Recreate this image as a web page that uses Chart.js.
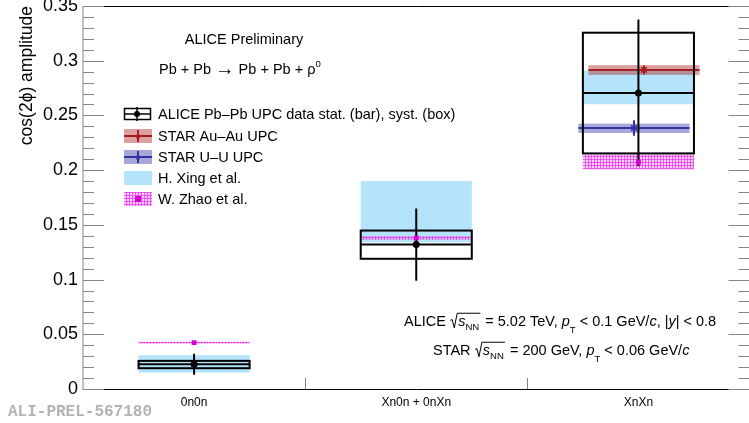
<!DOCTYPE html>
<html>
<head>
<meta charset="utf-8">
<script src="https://cdn.jsdelivr.net/npm/chart.js@4.4.0/dist/chart.umd.min.js"></script>
<style>
    html, body { margin: 0; padding: 0; background: #fff; overflow: hidden; }
    canvas { display: block; }
</style>
</head>
<body>
<canvas id="ampChart" width="755" height="423"></canvas>
<script>
// categories and tick labels
const categories = ['0n0n', 'Xn0n + 0nXn', 'XnXn'];
const yTicks = [0, 0.05, 0.1, 0.15, 0.2, 0.25, 0.3, 0.35];

// ALICE Pb-Pb UPC: value, stat. error, syst. box
const aliceValues = [0.0226, 0.132, 0.2706];
const aliceStat = [0.0095, 0.033, 0.067];
const aliceSystLow = [0.019, 0.119, 0.2153];
const aliceSystHigh = [0.0257, 0.1448, 0.3256];

// STAR (only XnXn)
const starAuValues = [null, null, 0.2916];
const starAuStat = [null, null, 0.004];
const starAuSystLow = [null, null, 0.287];
const starAuSystHigh = [null, null, 0.296];

const starUUValues = [null, null, 0.2385];
const starUUStat = [null, null, 0.007];
const starUUSystLow = [null, null, 0.234];
const starUUSystHigh = [null, null, 0.2425];

// models
const xingLow = [0.015, 0.134, 0.2602];
const xingHigh = [0.0308, 0.190, 0.2908];

const zhaoValues = [0.0424, 0.138, 0.2073];
const zhaoLow = [0.0415, 0.1362, 0.2007];
const zhaoHigh = [0.0432, 0.1398, 0.2144];

// styles
const halfWidth = 0.25;
const auShift = 0.025;
const uuShift = -0.02;
const FONT = '"Liberation Sans", Arial, Helvetica, sans-serif';
const TXT = 14.5;
const xingColor = 'rgb(179, 228, 252)';
const auLine = 'rgb(165, 30, 35)';
const auBand = 'rgba(180, 45, 45, 0.45)';
const uuLine = 'rgb(50, 50, 160)';
const uuBand = 'rgba(60, 60, 170, 0.45)';
const zhaoColor = 'rgb(215, 0, 215)';
const axisGray = '#858585';

function centerX(i, shift) {
    return i + 0.5 + (shift || 0);
}

// hatch pattern for the W. Zhao band
function makeHatch(ctx) {
    const c = document.createElement('canvas');
    c.width = 3; c.height = 3;
    const p = c.getContext('2d');
    p.fillStyle = 'rgba(240, 110, 240, 0.3)';
    p.fillRect(0, 0, 3, 3);
    p.fillStyle = 'rgba(235, 60, 235, 0.8)';
    p.fillRect(0, 0, 3, 1);
    p.fillRect(0, 0, 1, 3);
    return ctx.createPattern(c, 'repeat');
}

function line(ctx, x1, y1, x2, y2) {
    ctx.beginPath();
    ctx.moveTo(x1, y1);
    ctx.lineTo(x2, y2);
    ctx.stroke();
}

// rich text: parts with italic / sub / sup / sqrt
function runRich(ctx, parts, x, y, size, draw) {
    let cx = x;
    for (const p of parts) {
        if (p.sqrt) {
            const inner = runRich(ctx, p.sqrt, 0, 0, size, false);
            const rw = size * 0.5;
            if (draw) {
                ctx.save();
                ctx.strokeStyle = '#000';
                ctx.lineWidth = 1;
                ctx.beginPath();
                ctx.moveTo(cx + 0.5, y - size * 0.38);
                ctx.lineTo(cx + size * 0.15, y - size * 0.45);
                ctx.lineTo(cx + size * 0.3, y + size * 0.12);
                ctx.lineTo(cx + rw, y - size * 0.88);
                ctx.lineTo(cx + rw + inner + 2, y - size * 0.88);
                ctx.stroke();
                ctx.restore();
                runRich(ctx, p.sqrt, cx + rw + 1, y, size, true);
            }
            cx += rw + inner + 3;
            continue;
        }
        const small = p.sub || p.sup;
        const fs = (small ? size * 0.66 : size) * (p.scale || 1);
        ctx.font = (p.it ? 'italic ' : '') + fs + 'px ' + FONT;
        const w = ctx.measureText(p.t).width;
        if (draw) {
            let dy = p.dy || 0;
            if (p.sub) dy = size * (p.low ? 0.45 : 0.3);
            if (p.sup) dy = -size * 0.45;
            ctx.fillText(p.t, cx, y + dy);
        }
        cx += w;
    }
    return cx - x;
}

function drawRich(ctx, parts, x, y, size) {
    ctx.save();
    ctx.fillStyle = '#000';
    ctx.textAlign = 'left';
    ctx.textBaseline = 'alphabetic';
    runRich(ctx, parts, x, y, size, true);
    ctx.restore();
}

function starMarker(ctx, x, y, r, color) {
    ctx.save();
    ctx.fillStyle = color;
    ctx.beginPath();
    for (let k = 0; k < 10; k++) {
        const a = -Math.PI / 2 + k * Math.PI / 5;
        const rr = k % 2 === 0 ? r : r * 0.45;
        ctx.lineTo(x + rr * Math.cos(a), y + rr * Math.sin(a));
    }
    ctx.closePath();
    ctx.fill();
    ctx.restore();
}

const bandsPlugin = {
    id: 'bands',
    beforeDatasetsDraw(chart) {
        const {ctx, chartArea, scales: {x, y}} = chart;
        const hatch = makeHatch(ctx);
        ctx.save();
        ctx.beginPath();
        ctx.rect(chartArea.left, chartArea.top, chartArea.width, chartArea.height);
        ctx.clip();

        const rect = (i, shift, lo, hi, fill) => {
            const xl = x.getPixelForValue(centerX(i, shift) - halfWidth);
            const xr = x.getPixelForValue(centerX(i, shift) + halfWidth);
            const yt = y.getPixelForValue(hi);
            const yb = y.getPixelForValue(lo);
            ctx.fillStyle = fill;
            ctx.fillRect(xl, yt, xr - xl, yb - yt);
            return [xl, xr, yt, yb];
        };

        // H. Xing et al.
        categories.forEach((c, i) => rect(i, 0, xingLow[i], xingHigh[i], xingColor));
        // W. Zhao et al.
        categories.forEach((c, i) => rect(i, 0, zhaoLow[i], zhaoHigh[i], hatch));

        // STAR bands and lines
        const star = (vals, stat, lo, hi, shift, lineCol, bandCol) => {
            categories.forEach((c, i) => {
                if (vals[i] == null) return;
                const [xl, xr] = rect(i, shift, lo[i], hi[i], bandCol);
                const yv = y.getPixelForValue(vals[i]);
                ctx.strokeStyle = lineCol;
                ctx.lineWidth = 2;
                line(ctx, xl, yv, xr, yv);
                const xm = x.getPixelForValue(centerX(i, shift));
                line(ctx, xm, y.getPixelForValue(vals[i] + stat[i]), xm, y.getPixelForValue(vals[i] - stat[i]));
            });
        };
        star(starUUValues, starUUStat, starUUSystLow, starUUSystHigh, uuShift, uuLine, uuBand);
        star(starAuValues, starAuStat, starAuSystLow, starAuSystHigh, auShift, auLine, auBand);

        // ALICE syst boxes and stat bars
        ctx.strokeStyle = '#000';
        ctx.lineWidth = 2;
        categories.forEach((c, i) => {
            const xl = x.getPixelForValue(centerX(i) - halfWidth);
            const xr = x.getPixelForValue(centerX(i) + halfWidth);
            const yt = y.getPixelForValue(aliceSystHigh[i]);
            const yb = y.getPixelForValue(aliceSystLow[i]);
            ctx.strokeRect(xl, yt, xr - xl, yb - yt);
            const yv = y.getPixelForValue(aliceValues[i]);
            line(ctx, xl, yv, xr, yv);
            const xm = x.getPixelForValue(centerX(i));
            line(ctx, xm, y.getPixelForValue(aliceValues[i] + aliceStat[i]), xm, y.getPixelForValue(aliceValues[i] - aliceStat[i]));
        });
        ctx.restore();
    },
    afterDraw(chart) {
        const {ctx, chartArea, scales: {x, y}} = chart;
        const hatch = makeHatch(ctx);
        ctx.save();

        // frame and axes
        ctx.strokeStyle = '#000';
        ctx.lineWidth = 1;
        line(ctx, chartArea.left, chartArea.top + 0.5, chartArea.right, chartArea.top + 0.5);
        line(ctx, chartArea.left, chartArea.bottom + 0.5, chartArea.right, chartArea.bottom + 0.5);
        ctx.strokeStyle = axisGray;
        line(ctx, chartArea.left, chartArea.top, chartArea.left, chartArea.bottom + 1);
        line(ctx, chartArea.right, chartArea.top, chartArea.right, chartArea.bottom + 1);

        // inward y ticks, left and right
        for (let k = 0; k <= 35; k++) {
            const yp = Math.round(y.getPixelForValue(k / 100)) + 0.5;
            const len = k % 5 === 0 ? 21 : 11;
            line(ctx, chartArea.left, yp, chartArea.left + len, yp);
            line(ctx, chartArea.right - len, yp, chartArea.right, yp);
        }
        // x ticks at category boundaries
        for (let k = 1; k < categories.length; k++) {
            const xp = Math.round(x.getPixelForValue(k)) + 0.5;
            line(ctx, xp, chartArea.bottom, xp, chartArea.bottom - 11);
        }

        // y axis title
        ctx.save();
        ctx.translate(32, chartArea.top);
        ctx.rotate(-Math.PI / 2);
        ctx.fillStyle = '#000';
        ctx.font = '17.5px ' + FONT;
        ctx.textAlign = 'right';
        ctx.textBaseline = 'alphabetic';
        ctx.fillText('cos(2\u03D5) amplitude', 0, 0);
        ctx.restore();

        // header texts
        ctx.fillStyle = '#000';
        ctx.font = TXT + 'px ' + FONT;
        ctx.textAlign = 'center';
        ctx.fillText('ALICE Preliminary', 244, 44);
        drawRich(ctx, [
            {t: 'Pb + Pb '},
            {t: '\u2192', scale: 1.35, dy: 1},
            {t: ' Pb + Pb + \u03C1'},
            {t: '0', sup: true}
        ], 159, 74, TXT);

        // legend
        const lx0 = 124, lx1 = 152, lxm = 138, ltx = 158;
        ctx.font = TXT + 'px ' + FONT;
        ctx.textAlign = 'left';
        ctx.fillStyle = '#000';
        // ALICE entry
        let yc = 114;
        ctx.strokeStyle = '#000';
        ctx.lineWidth = 1.5;
        ctx.strokeRect(lx0 + 0.5, yc - 5.5, lx1 - lx0 - 2, 11);
        line(ctx, lx0, yc, lx1 - 2, yc);
        line(ctx, lxm - 1, yc - 7, lxm - 1, yc + 7);
        ctx.beginPath();
        ctx.arc(lxm - 1, yc, 3, 0, Math.PI * 2);
        ctx.fill();
        ctx.fillText('ALICE Pb\u2013Pb UPC data stat. (bar), syst. (box)', ltx, yc + 5);
        // STAR entries
        const starEntry = (yc, lineCol, bandCol, label) => {
            ctx.fillStyle = bandCol;
            ctx.fillRect(lx0, yc - 7, lx1 - lx0, 14);
            ctx.strokeStyle = lineCol;
            ctx.lineWidth = 2;
            line(ctx, lx0, yc, lx1, yc);
            line(ctx, lxm, yc - 6, lxm, yc + 6);
            starMarker(ctx, lxm, yc, 3.5, lineCol);
            ctx.fillStyle = '#000';
            ctx.fillText(label, ltx, yc + 5);
        };
        starEntry(136, auLine, auBand, 'STAR Au\u2013Au UPC');
        starEntry(157, uuLine, uuBand, 'STAR U\u2013U UPC');
        // H. Xing
        ctx.fillStyle = xingColor;
        ctx.fillRect(lx0, 171, lx1 - lx0, 14);
        ctx.fillStyle = '#000';
        ctx.fillText('H. Xing et al.', ltx, 183);
        // W. Zhao
        ctx.fillStyle = hatch;
        ctx.fillRect(lx0, 192, lx1 - lx0, 14);
        ctx.fillStyle = zhaoColor;
        ctx.fillRect(lxm - 3, 196, 6, 6);
        ctx.fillStyle = '#000';
        ctx.fillText('W. Zhao et al.', ltx, 204);

        // collision info
        drawRich(ctx, [
            {t: 'ALICE '},
            {sqrt: [{t: 's', it: true}, {t: 'NN', sub: true}]},
            {t: ' = 5.02 TeV, '},
            {t: 'p', it: true}, {t: 'T', sub: true, low: true},
            {t: ' < 0.1 GeV/'}, {t: 'c', it: true},
            {t: ', |'}, {t: 'y', it: true}, {t: '| < 0.8'}
        ], 404, 326, TXT);
        drawRich(ctx, [
            {t: 'STAR '},
            {sqrt: [{t: 's', it: true}, {t: 'NN', sub: true}]},
            {t: ' = 200 GeV, '},
            {t: 'p', it: true}, {t: 'T', sub: true, low: true},
            {t: ' < 0.06 GeV/'}, {t: 'c', it: true}
        ], 433, 355, TXT);

        // watermark
        ctx.fillStyle = '#b3b3b3';
        ctx.font = 'bold 16px "Liberation Mono", "Courier New", monospace';
        ctx.textAlign = 'left';
        ctx.fillText('ALI-PREL-567180', 8, 416);
        ctx.restore();
    }
};

const toPoints = (vals, shift) => vals
    .map((v, i) => v == null ? null : {x: centerX(i, shift), y: v})
    .filter(p => p !== null);

const ctx = document.getElementById('ampChart');

const ampChart = new Chart(ctx, {
    type: 'scatter',
    data: {
        datasets: [
            {
                label: 'W. Zhao et al.',
                data: toPoints(zhaoValues, 0),
                pointStyle: 'rect',
                pointRadius: 3.5,
                backgroundColor: zhaoColor,
                borderColor: zhaoColor,
                borderWidth: 0
            },
            {
                label: 'STAR U-U UPC',
                data: toPoints(starUUValues, uuShift),
                pointStyle: 'star',
                pointRadius: 4,
                backgroundColor: uuLine,
                borderColor: uuLine,
                borderWidth: 1.5
            },
            {
                label: 'STAR Au-Au UPC',
                data: toPoints(starAuValues, auShift),
                pointStyle: 'star',
                pointRadius: 4,
                backgroundColor: auLine,
                borderColor: auLine,
                borderWidth: 1.5
            },
            {
                label: 'ALICE Pb-Pb UPC',
                data: toPoints(aliceValues, 0),
                pointStyle: 'circle',
                pointRadius: 3.5,
                backgroundColor: '#000',
                borderColor: '#000',
                borderWidth: 0
            }
        ]
    },
    options: {
        responsive: false,
        animation: false,
        devicePixelRatio: 1,
        events: [],
        layout: {
            padding: {top: 6, right: 1, left: 0, bottom: 0}
        },
        scales: {
            x: {
                type: 'linear',
                min: 0,
                max: categories.length,
                grid: {display: false, drawTicks: false},
                border: {display: false},
                afterBuildTicks: scale => {
                    scale.ticks = categories.map((c, i) => ({value: i + 0.5}));
                },
                afterFit: scale => {
                    scale.height = 34;
                    scale.paddingLeft = 0;
                    scale.paddingRight = 0;
                },
                ticks: {
                    autoSkip: false,
                    maxRotation: 0,
                    padding: 6,
                    color: '#000',
                    font: {family: FONT, size: 12},
                    callback: value => categories[Math.round(value - 0.5)]
                }
            },
            y: {
                min: 0,
                max: 0.35,
                grid: {display: false, drawTicks: false},
                border: {display: false},
                afterBuildTicks: scale => {
                    scale.ticks = yTicks.map(v => ({value: v}));
                },
                afterFit: scale => {
                    scale.width = 83;
                    scale.paddingTop = 0;
                    scale.paddingBottom = 0;
                },
                ticks: {
                    padding: 5,
                    color: '#000',
                    font: {family: FONT, size: 18},
                    callback: value => String(parseFloat(value.toFixed(2)))
                }
            }
        },
        plugins: {
            legend: {display: false},
            tooltip: {enabled: false}
        }
    },
    plugins: [bandsPlugin]
});
</script>
</body>
</html>
